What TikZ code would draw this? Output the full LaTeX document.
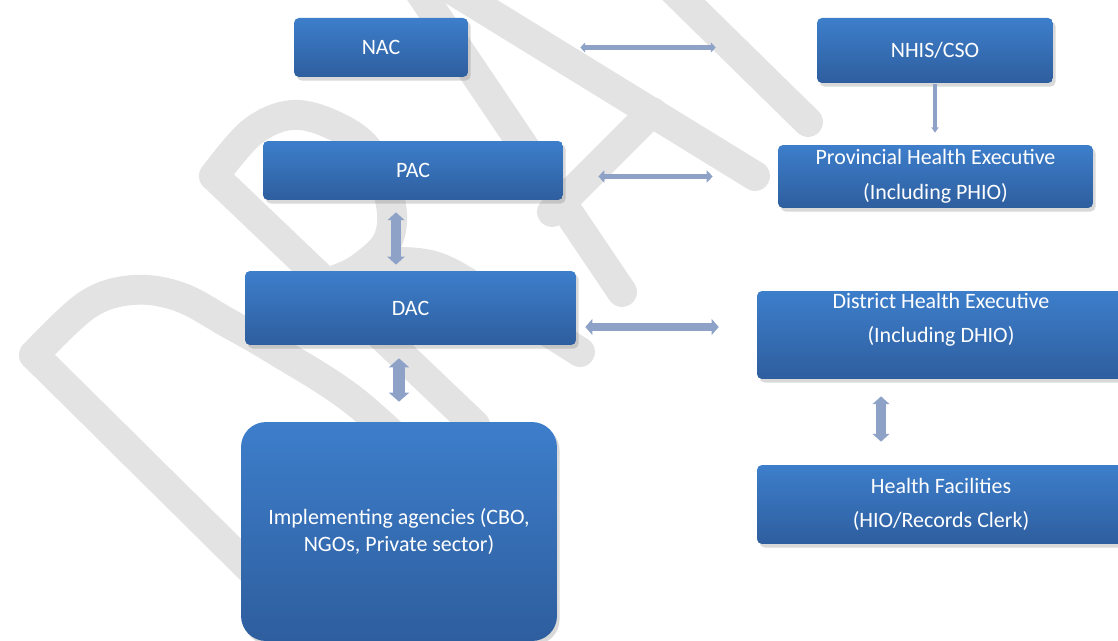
\documentclass[tikz,border=0pt]{standalone}
\usepackage{fontspec}
\setmainfont{Carlito}
\usetikzlibrary{arrows.meta,shadows,calc}

\definecolor{boxtop}{RGB}{61,126,203}
\definecolor{boxbot}{RGB}{46,94,158}
\definecolor{linkblue}{RGB}{142,162,200}
\definecolor{wmgray}{RGB}{227,227,227}

\tikzset{
  box/.style={rectangle, rounded corners=2.8pt, top color=boxtop, bottom color=boxbot,
    text=white, align=center, inner sep=0pt, font=\fontsize{12.5}{15}\selectfont,
    drop shadow={opacity=0.3, shadow xshift=1.5pt, shadow yshift=-2pt}},
  wmark/.style={draw=wmgray, line width=17pt, line cap=round, line join=round},
  link/.style n args={3}{draw=linkblue, line width=#1,
    arrows={Triangle[width=#2,length=#3]-Triangle[width=#2,length=#3]}},
}

\begin{document}
\begin{tikzpicture}[x=0.02cm, y=-0.02cm]
      \useasboundingbox (0,0) rectangle (1118,641);
      \begin{scope}
        \draw[wmark] (310,628) -- (34,355);
        \draw[wmark] plot[smooth, tension=0.6] coordinates {(34,355) (87,305) (133,290) (180,297) (228,323) (275,350) (353,400) (430,470)};
        \draw[wmark] (475,425) -- (214,176);
        \draw[wmark] plot[smooth, tension=0.6] coordinates {(214,176) (252,132) (292,115) (333,125) (368,150) (390,200) (388,240) (360,268) (335,280)};
        \draw[wmark] plot[smooth, tension=0.6] coordinates {(375,262) (430,265) (480,290) (580,352)};
        \draw[wmark] (405,-30) -- (622,292);
        \draw[wmark] (420,-30) -- (755,176);
        \draw[wmark] (552,212) -- (652,112);
        \draw[wmark] (650,-33) -- (808,122);
      \end{scope}
      \path
        (381,47.5) node[box, minimum width=3.48cm, minimum height=1.18cm] (nac) {NAC}
        (935,50.5) node[box, minimum width=4.72cm, minimum height=1.30cm] (nhis) {NHIS/CSO}
        (413,170.5) node[box, minimum width=6.00cm, minimum height=1.18cm] (pac) {PAC}
        (935.5,176.5) node[box, minimum width=6.30cm, minimum height=1.26cm] (phe) {Provincial Health Executive\\[4.8pt](Including PHIO)}
        (410.5,308) node[box, minimum width=6.62cm, minimum height=1.48cm] (dac) {DAC}
        (941,335) node[box, minimum width=7.36cm, minimum height=1.76cm] (dhe) {District Health Executive\\[4.8pt](Including DHIO)\\\strut}
        (941,504.5) node[box, minimum width=7.36cm, minimum height=1.58cm] (hf) {Health Facilities\\[4.8pt](HIO/Records Clerk)}
        (399,531.5) node[box, rounded corners=0.5cm, minimum width=6.32cm, minimum height=4.38cm] (impl) {Implementing agencies (CBO,\\NGOs, Private sector)};
      \coordinate (dacr) at ($(dac.east)+(0,19)$);
      \begin{scope}
        \draw[link={2.8pt}{5.7pt}{2.8pt}, shorten <=2.24cm, shorten >=2.02cm] (nac.east) to (nac.east -| nhis.west);
        \draw[draw=linkblue, line width=2.3pt, arrows={-Triangle[width=4pt,length=3pt]}, shorten <=0.02cm, shorten >=0.24cm] (nhis.south) to (nhis.south |- phe.north);
        \draw[link={3.4pt}{6.8pt}{3.4pt}, shorten <=0.70cm, shorten >=1.30cm] (pac.east |- phe.west) to (phe.west);
        \draw[link={4.5pt}{9pt}{4pt}, shorten <=0.18cm, shorten >=0.76cm] (dacr) to (dacr -| dhe.west);
        \draw[link={5.7pt}{9.6pt}{4.5pt}, shorten <=0.24cm, shorten >=0.12cm] ([xshift=-0.34cm]pac.south) to ([xshift=-0.34cm]pac.south |- dac.north);
        \draw[link={6.8pt}{11.3pt}{5.1pt}, shorten <=0.26cm, shorten >=0.40cm] (impl.north |- dac.south) to (impl.north);
        \draw[link={5.7pt}{9.6pt}{4.5pt}, shorten <=0.34cm, shorten >=0.46cm] ([xshift=-1.2cm]dhe.south) to ([xshift=-1.2cm]hf.north);
      \end{scope}
    \end{tikzpicture}
\end{document}
